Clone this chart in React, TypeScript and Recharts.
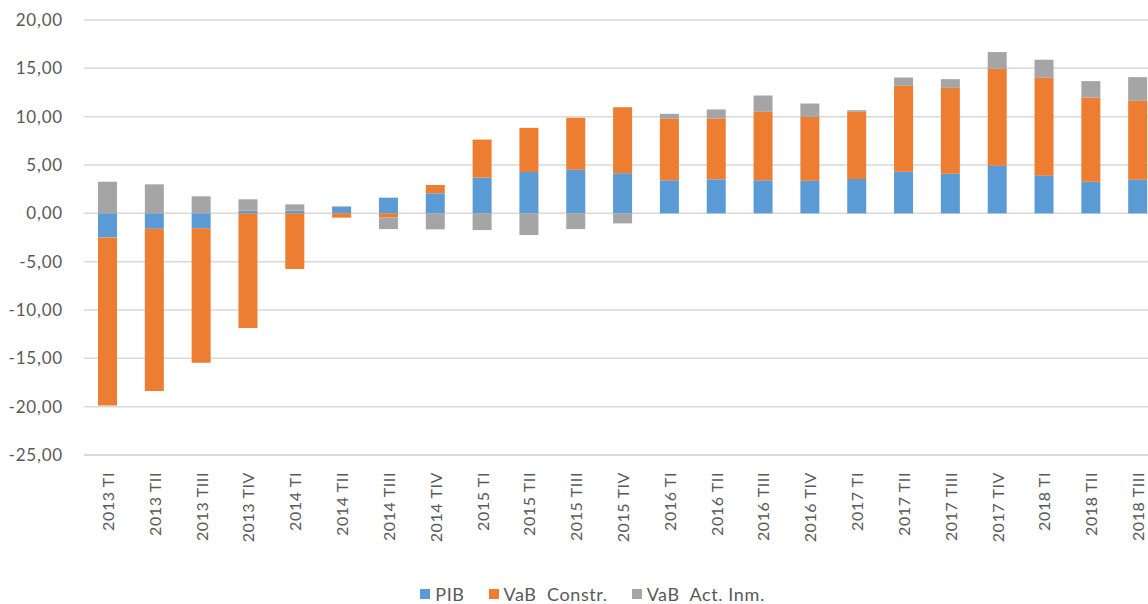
import React from 'react';
import { BarChart, Bar, XAxis, YAxis, CartesianGrid, Legend } from 'recharts';

const quarters = [
  '2013 TI', '2013 TII', '2013 TIII', '2013 TIV',
  '2014 TI', '2014 TII', '2014 TIII', '2014 TIV',
  '2015 TI', '2015 TII', '2015 TIII', '2015 TIV',
  '2016 TI', '2016 TII', '2016 TIII', '2016 TIV',
  '2017 TI', '2017 TII', '2017 TIII', '2017 TIV',
  '2018 TI', '2018 TII', '2018 TIII',
];

const pib = [
  -2.49, -1.6, -1.55, 0.27, 0.27, 0.69, 1.62, 2.07, 3.69, 4.28, 4.52, 4.15,
  3.42, 3.52, 3.42, 3.38, 3.55, 4.31, 4.1, 4.93, 3.9, 3.27, 3.48,
];

const vabConstr = [
  -17.38, -16.78, -13.9, -11.85, -5.77, -0.45, -0.41, 0.86, 3.94, 4.56, 5.36, 6.83,
  6.38, 6.28, 7.08, 6.6, 6.95, 8.88, 8.88, 10.02, 10.12, 8.71, 8.16,
];

const vabActInm = [
  3.27, 3.0, 1.76, 1.18, 0.66, 0.04, -1.22, -1.66, -1.73, -2.25, -1.63, -1.04,
  0.49, 0.95, 1.69, 1.38, 0.17, 0.86, 0.9, 1.73, 1.87, 1.7, 2.45,
];

const yTicks = [-25, -20, -15, -10, -5, 0, 5, 10, 15, 20];

const data = quarters.map((q, i) => ({
  name: q,
  pib: pib[i],
  constr: vabConstr[i],
  inm: vabActInm[i],
}));

const FONT = 'Lato, "Open Sans", sans-serif';
const TEXT = '#595959';

const fmt = (v: number) => v.toFixed(2).replace('.', ',');

const XTick = (props: any) => {
  const { x, y, payload } = props;
  return (
    <g transform={`translate(${x},${y + 9})`}>
      <text
        transform="rotate(-90)"
        textAnchor="end"
        dominantBaseline="central"
        fill={TEXT}
        fontSize={16}
        letterSpacing={0.6}
        fontFamily={FONT}
      >
        {payload.value}
      </text>
    </g>
  );
};

const legendItems = [
  { label: 'PIB', color: '#5b9bd5' },
  { label: 'VaB\u00a0 Constr.', color: '#ed7d31' },
  { label: 'VaB\u00a0 Act. Inm.', color: '#a5a5a5' },
];

const LegendBox = () => (
  <div
    style={{
      boxSizing: 'border-box',
      display: 'flex',
      justifyContent: 'center',
      alignItems: 'center',
      gap: 24,
      fontFamily: FONT,
      fontSize: 18,
      lineHeight: '18px',
      letterSpacing: 0.6,
      color: TEXT,
      height: 28,
      paddingTop: 8,
      paddingLeft: 24,
    }}
  >
    {legendItems.map((it) => (
      <div key={it.label} style={{ display: 'flex', alignItems: 'center', gap: 5 }}>
        <div style={{ width: 10, height: 10, background: it.color }} />
        <span>{it.label}</span>
      </div>
    ))}
  </div>
);

export default function App() {
  return (
    <div
      style={{
        position: 'absolute',
        left: 0,
        top: 0,
        width: 1148,
        height: 604,
        overflow: 'hidden',
        background: '#fff',
      }}
    >
      <BarChart
        width={1171}
        height={604}
        data={data}
        stackOffset="sign"
        barSize={19}
        margin={{ top: 20, right: 10, left: 0, bottom: 0 }}
      >
        <CartesianGrid vertical={false} stroke="#d9d9d9" strokeWidth={1.5} />
        <XAxis
          dataKey="name"
          interval={0}
          tickLine={false}
          axisLine={{ stroke: '#d9d9d9', strokeWidth: 1.5 }}
          tick={<XTick />}
          height={121}
        />
        <YAxis
          width={84}
          domain={[-25, 20]}
          ticks={yTicks}
          tickFormatter={fmt}
          tickLine={false}
          axisLine={false}
          tickSize={0}
          tickMargin={21}
          tick={{ fill: TEXT, fontSize: 17, fontFamily: FONT, letterSpacing: 0.8 }}
          interval={0}
        />
        <Legend verticalAlign="bottom" height={28} content={<LegendBox />} />
        <Bar dataKey="pib" name="PIB" stackId="a" fill="#5b9bd5" isAnimationActive={false} />
        <Bar dataKey="constr" name="VaB Constr." stackId="a" fill="#ed7d31" isAnimationActive={false} />
        <Bar dataKey="inm" name="VaB Act. Inm." stackId="a" fill="#a5a5a5" isAnimationActive={false} />
      </BarChart>
    </div>
  );
}
